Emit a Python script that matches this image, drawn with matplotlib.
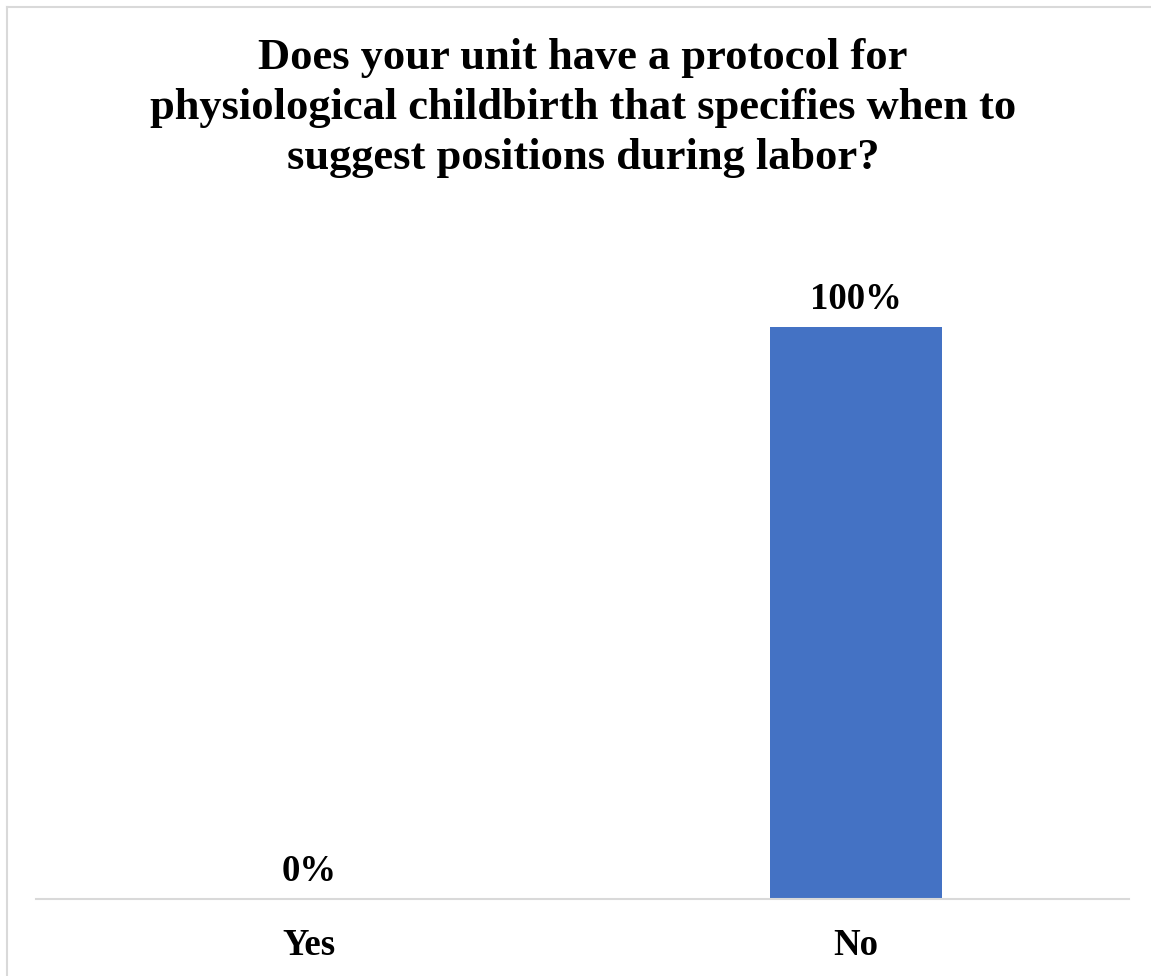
import matplotlib.pyplot as plt
from matplotlib.lines import Line2D

# Survey answer shares
categories = ['Yes', 'No']
percentages = [0, 100]
title = ('Does your unit have a protocol for\n'
         'physiological childbirth that specifies when to\n'
         'suggest positions during labor?')

W, H = 1151, 976
fig = plt.figure(figsize=(W / 100, H / 100), dpi=100)
plt.rcParams['font.family'] = ['Liberation Serif', 'DejaVu Serif']

# chart frame: only top and left edges show (cropped on right/bottom)
fx, fy = 6.5 / W, 1 - 6.5 / H
fig.add_artist(Line2D([fx, 1.0], [fy, fy], transform=fig.transFigure,
                      color='#d9d9d9', linewidth=1.5))
fig.add_artist(Line2D([fx, fx], [0.0, fy], transform=fig.transFigure,
                      color='#d9d9d9', linewidth=1.5))

ax = fig.add_axes([36 / W, 77 / H, (1129 - 36) / W, 572 / H])
x = list(range(len(categories)))
bars = ax.bar(x, percentages, width=0.315, color='#4472c4')
ax.set_xlim(-0.5, 1.5)
ax.set_ylim(0, 100)

for b, v in zip(bars, percentages):
    ax.annotate(f'{v}%', (b.get_x() + b.get_width() / 2, v),
                xytext=(0, 7), textcoords='offset points',
                ha='center', va='bottom', fontsize=26.5, fontweight='bold',
                annotation_clip=False)

ax.set_xticks(x)
ax.set_xticklabels(categories, fontsize=26.5, fontweight='bold')
ax.tick_params(axis='x', length=0, pad=21)
ax.set_yticks([])
for s in ['top', 'right', 'left']:
    ax.spines[s].set_visible(False)
ax.spines['bottom'].set_color('#d9d9d9')
ax.spines['bottom'].set_linewidth(1.5)

fig.text(583 / W, 1 - 108 / H, title, ha='center', va='center',
         fontsize=32, fontweight='bold', linespacing=1.33)

fig.savefig('out.png', dpi=100)
